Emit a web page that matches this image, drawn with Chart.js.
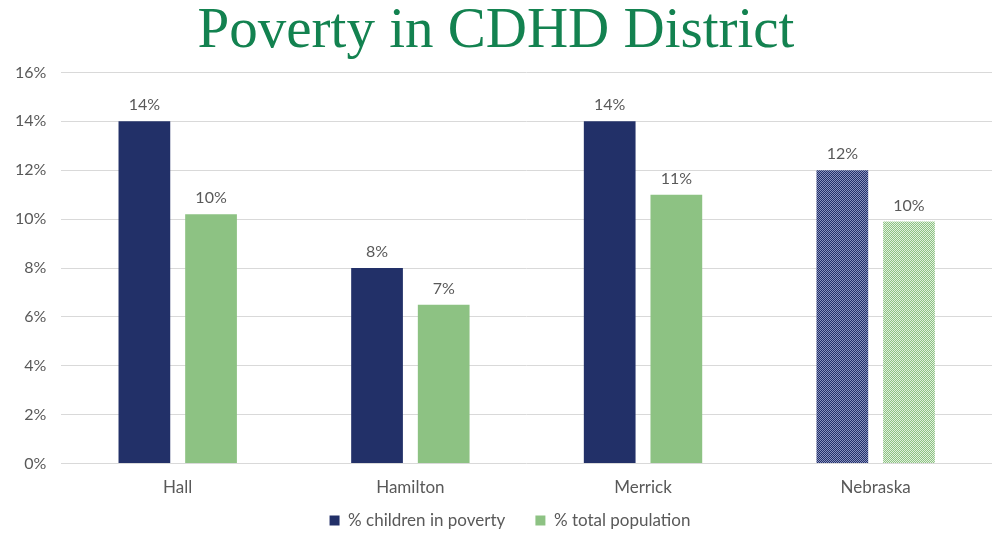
<!DOCTYPE html>
<html>
<head>
<meta charset="utf-8">
<script src="https://cdn.jsdelivr.net/npm/chart.js@4.4.1/dist/chart.umd.min.js"></script>
<style>
  html, body { margin: 0; padding: 0; background: #fff; }
  #wrap { width: 992px; height: 536px; }
</style>
</head>
<body>
<div id="wrap"><canvas id="myChart" width="992" height="536"></canvas></div>
<script>

var counties = ["Hall", "Hamilton", "Merrick", "Nebraska"];
var childPoverty = [14, 8, 14, 12];
var totalPoverty = [10.2, 6.5, 11, 9.9];
var yTicks = [0, 2, 4, 6, 8, 10, 12, 14, 16];
var seriesNames = ["% children in poverty", "% total population"];

var navy = "#223068";
var green = "#8dc283";

// dotted fill used for the state bars
function dotPattern(color, light) {
  var c = document.createElement("canvas");
  c.width = 2;
  c.height = 2;
  var g = c.getContext("2d");
  g.fillStyle = color;
  g.fillRect(0, 0, 2, 2);
  g.fillStyle = light;
  g.fillRect(0, 0, 1, 1);
  g.fillRect(1, 1, 1, 1);
  var ctx = document.getElementById("myChart").getContext("2d");
  return ctx.createPattern(c, "repeat");
}

function colorsFor(base, light) {
  var out = [];
  for (var i = 0; i < counties.length; i++) {
    out.push(counties[i] == "Nebraska" ? dotPattern(base, light) : base);
  }
  return out;
}

// value labels over the bars
var barLabels = {
  id: "barLabels",
  afterDatasetsDraw: function (chart) {
    var ctx = chart.ctx;
    ctx.save();
    ctx.font = "16px Lato";
    ctx.fillStyle = "#595959";
    ctx.textAlign = "center";
    ctx.textBaseline = "bottom";
    chart.data.datasets.forEach(function (ds, di) {
      var meta = chart.getDatasetMeta(di);
      meta.data.forEach(function (bar, i) {
        ctx.fillText(Math.round(ds.data[i]) + "%", bar.x, bar.y - 8);
      });
    });
    ctx.restore();
  }
};

// legend sits a little right of and below the default spot
var legendNudge = {
  id: "legendNudge",
  afterLayout: function (chart) {
    var lg = chart.legend;
    lg.left += 28;
    lg.top += 4;
    lg.bottom += 4;
  }
};

var ctx = document.getElementById("myChart").getContext("2d");
var chart = new Chart(ctx, {
  type: "bar",
  data: {
    labels: counties,
    datasets: [{
      label: seriesNames[0],
      data: childPoverty,
      backgroundColor: colorsFor(navy, "#8a93c0")
    }, {
      label: seriesNames[1],
      data: totalPoverty,
      backgroundColor: colorsFor(green, "#e2f1de")
    }]
  },
  plugins: [barLabels, legendNudge],
  options: {
    responsive: false,
    animation: false,
    categoryPercentage: 0.573,
    barPercentage: 0.776,
    layout: { padding: { left: 0, right: 0, top: 0, bottom: 1 } },
    plugins: {
      title: {
        display: true,
        text: "Poverty in CDHD District",
        color: "#138250",
        font: { family: "Liberation Serif", size: 57, weight: "normal" },
        padding: { top: -2, bottom: 6 }
      },
      legend: {
        position: "bottom",
        labels: {
          color: "#595959",
          font: { family: "Lato", size: 17 },
          boxWidth: 10,
          boxHeight: 10,
          padding: 4,
          generateLabels: function (chart) {
            return chart.data.datasets.map(function (ds, i) {
              return {
                text: i == 0 ? ds.label + "      " : ds.label,
                fillStyle: i == 0 ? navy : green,
                strokeStyle: i == 0 ? navy : green,
                lineWidth: 0,
                fontColor: "#595959",
                datasetIndex: i
              };
            });
          }
        }
      },
      tooltip: { enabled: false }
    },
    scales: {
      x: {
        grid: { display: false },
        border: { display: false },
        ticks: { color: "#595959", font: { family: "Lato", size: 17 }, padding: 6 }
      },
      y: {
        min: 0,
        max: 16,
        afterBuildTicks: function (axis) {
          axis.ticks = yTicks.map(function (v) { return { value: v }; });
        },
        grid: { color: "#d9d9d9", drawTicks: false },
        border: { display: false },
        ticks: {
          color: "#595959",
          font: { family: "Lato", size: 16 },
          padding: 15,
          callback: function (v) { return v + "%"; }
        }
      }
    }
  }
});

</script>
</body>
</html>
